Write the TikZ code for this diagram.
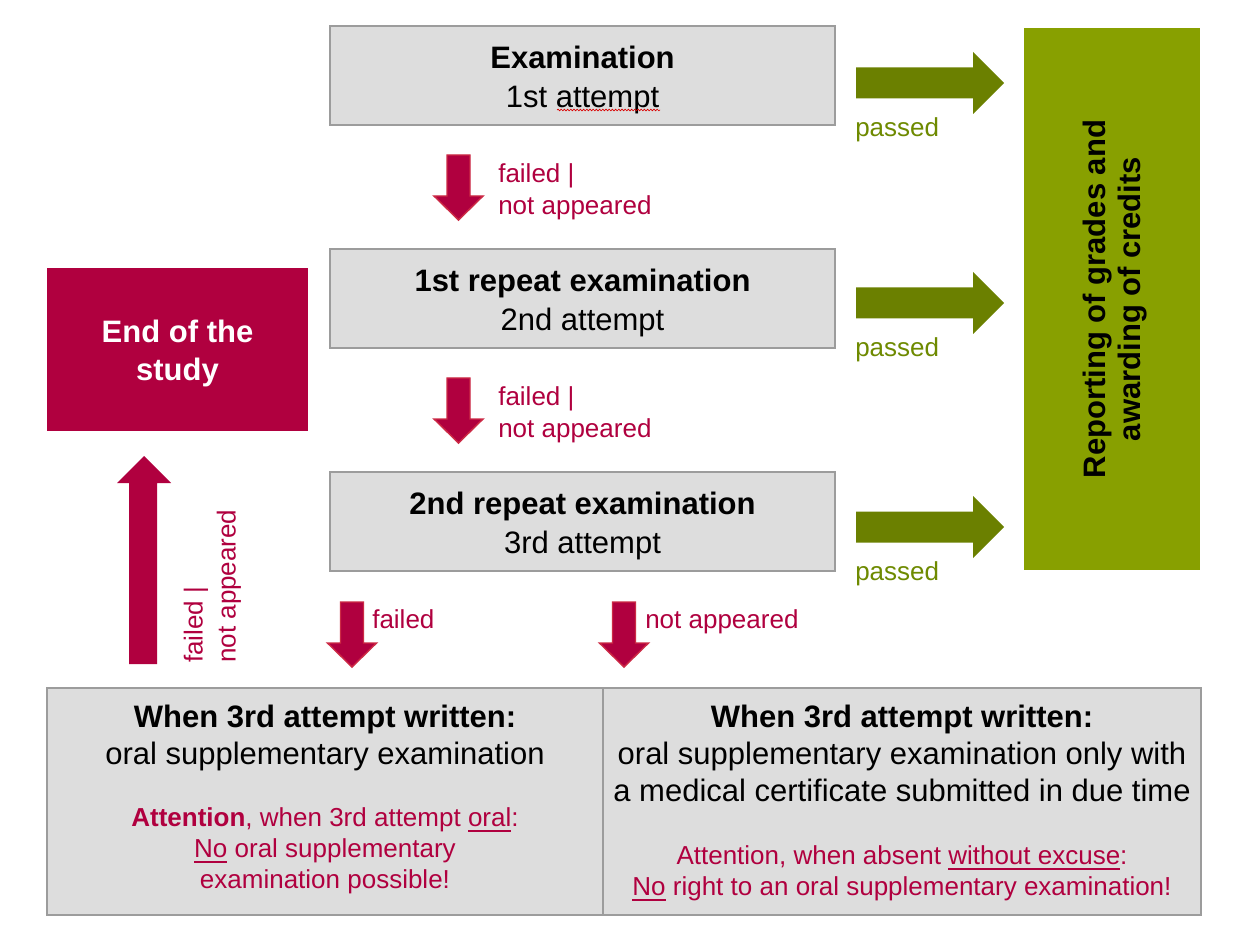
\documentclass[tikz,border=0pt]{standalone}
\usepackage{fontspec}
\setmainfont{Liberation Sans}
\usetikzlibrary{decorations.pathmorphing}
\definecolor{boxgray}{HTML}{DDDDDD}
\definecolor{boxline}{HTML}{9C9C9C}
\definecolor{uniRed}{HTML}{B0003F}
\definecolor{redEdge}{HTML}{CC2A45}
\definecolor{oliveBox}{HTML}{88A000}
\definecolor{oliveArrow}{HTML}{6B8000}
\definecolor{oliveText}{HTML}{6E8A00}
\newcommand{\myul}[1]{\leavevmode\setbox0\hbox{#1}\rlap{\vrule height -2.4pt depth 3.8pt width \wd0}\box0\relax}
\newcommand{\bigfont}{\fontsize{23.25}{29.25}\selectfont}
\newcommand{\midfont}{\fontsize{19.5}{24}\selectfont}
\newcommand{\greenarrow}[1]{\fill[oliveArrow] (856,{#1-15.5}) -- (973,{#1-15.5}) -- (973,{#1-31}) -- (1004,#1) -- (973,{#1+31}) -- (973,{#1+15.5}) -- (856,{#1+15.5}) -- cycle;}
\newcommand{\reddown}[2]{\filldraw[fill=uniRed,draw=redEdge,line width=1.1pt,line join=miter] ({#1-11.5},#2) -- ({#1+11.5},#2) -- ({#1+11.5},{#2+41}) -- ({#1+24.5},{#2+41}) -- (#1,{#2+65}) -- ({#1-24.5},{#2+41}) -- ({#1-11.5},{#2+41}) -- cycle;}
\begin{document}
\begin{tikzpicture}[x=0.75pt,y=-0.75pt,
  exambox/.style={draw=boxline,fill=boxgray,line width=0.9pt,inner sep=0pt,minimum width=378.75pt,minimum height=74.25pt},
  boxtext/.style={inner sep=0pt,align=center,font=\bigfont},
  cellbox/.style={draw=boxline,fill=boxgray,line width=0.9pt,inner sep=0pt,minimum height=170.25pt},
  redlabel/.style={text=uniRed,font=\midfont,inner sep=0pt,align=left},
  passlabel/.style={text=oliveText,font=\midfont,inner sep=0pt,anchor=west},
  blacktext/.style={inner sep=0pt,align=center,font=\fontsize{23.25}{27.75}\selectfont},
  redtext/.style={inner sep=0pt,align=center,text=uniRed,font=\fontsize{19.5}{23.25}\selectfont}]
\useasboundingbox[fill=white] (0,0) rectangle (1248,937);

% exam boxes
\node[exambox] (e1) at (582.5,75.5) {};
\node[exambox] (e2) at (582.5,298.5) {};
\node[exambox] (e3) at (582.5,521.5) {};
\node[boxtext] (t1) at ([yshift=-3pt]e1.center) {\textbf{Examination}\\1st attempt};
\node[boxtext] (t2) at ([yshift=-3pt]e2.center) {\textbf{1st repeat examination}\\2nd attempt};
\node[boxtext] (t3) at ([yshift=-3pt]e3.center) {\textbf{2nd repeat examination}\\3rd attempt};
\draw[red!85!black,line width=0.5pt,decorate,decoration={snake,amplitude=0.6pt,segment length=2.4pt}] (557,110) -- (660,110);

% end of study
\node[fill=uniRed,inner sep=0pt,minimum width=195.75pt,minimum height=122.25pt] (end) at (177.5,349.5) {};
\node[inner sep=0pt,text=white,align=center,font=\fontsize{23.25}{28.5}\selectfont\bfseries] (endtext) at ([yshift=-3pt]end.center) {End of the\\study};

% reporting box
\node[fill=oliveBox,inner sep=0pt,minimum width=132pt,minimum height=406.5pt] (rep) at (1112,299) {};
\node[rotate=90,inner sep=0pt,align=center,font=\fontsize{23.25}{26.25}\selectfont\bfseries] (reptext) at ([xshift=2.2pt]rep.center) {Reporting of grades and\\awarding of credits};

% green arrows and labels
\greenarrow{83}
\greenarrow{303}
\greenarrow{527}
\node[passlabel] (p1) at (855,130) {passed};
\node[passlabel] (p2) at (855,350) {passed};
\node[passlabel] (p3) at (855,574) {passed};

% red down arrows
\reddown{458.5}{155}
\reddown{458.5}{378}
\reddown{352}{602}
\reddown{624}{602}
\node[redlabel,anchor=west] (f1) at (498,192) {failed |\\not appeared};
\node[redlabel,anchor=west] (f2) at (498,415) {failed |\\not appeared};
\node[redlabel,anchor=base west] (f3) at (372,628) {failed};
\node[redlabel,anchor=base west] (f4) at (645,628) {not appeared};

% up arrow
\fill[uniRed] (129,664) -- (157,664) -- (157,483) -- (171,483) -- (144,456) -- (117,483) -- (129,483) -- cycle;
\node[redlabel,rotate=90,anchor=west] (u1) at (196,663) {failed |};
\node[redlabel,rotate=90,anchor=west] (u2) at (229,663) {not appeared};

% bottom cells
\node[cellbox,minimum width=417pt] (bl) at (325,801.5) {};
\node[cellbox,minimum width=448.5pt] (br) at (902,801.5) {};
\node[blacktext] (blt) at (325,737.5) {\textbf{When 3rd attempt written:}\\oral supplementary examination};
\node[blacktext] (brt) at (902,753) {\textbf{When 3rd attempt written:}\\oral supplementary examination only with\\a medical certificate submitted in due time};
\node[redtext] (blr) at (325,851) {\textbf{Attention}, when 3rd attempt \myul{oral}:\\\myul{No} oral supplementary\\examination possible!};
\node[redtext] (brr) at (902,873.5) {Attention, when absent \myul{without excuse}:\\\myul{No} right to an oral supplementary examination!};
\end{tikzpicture}
\end{document}
